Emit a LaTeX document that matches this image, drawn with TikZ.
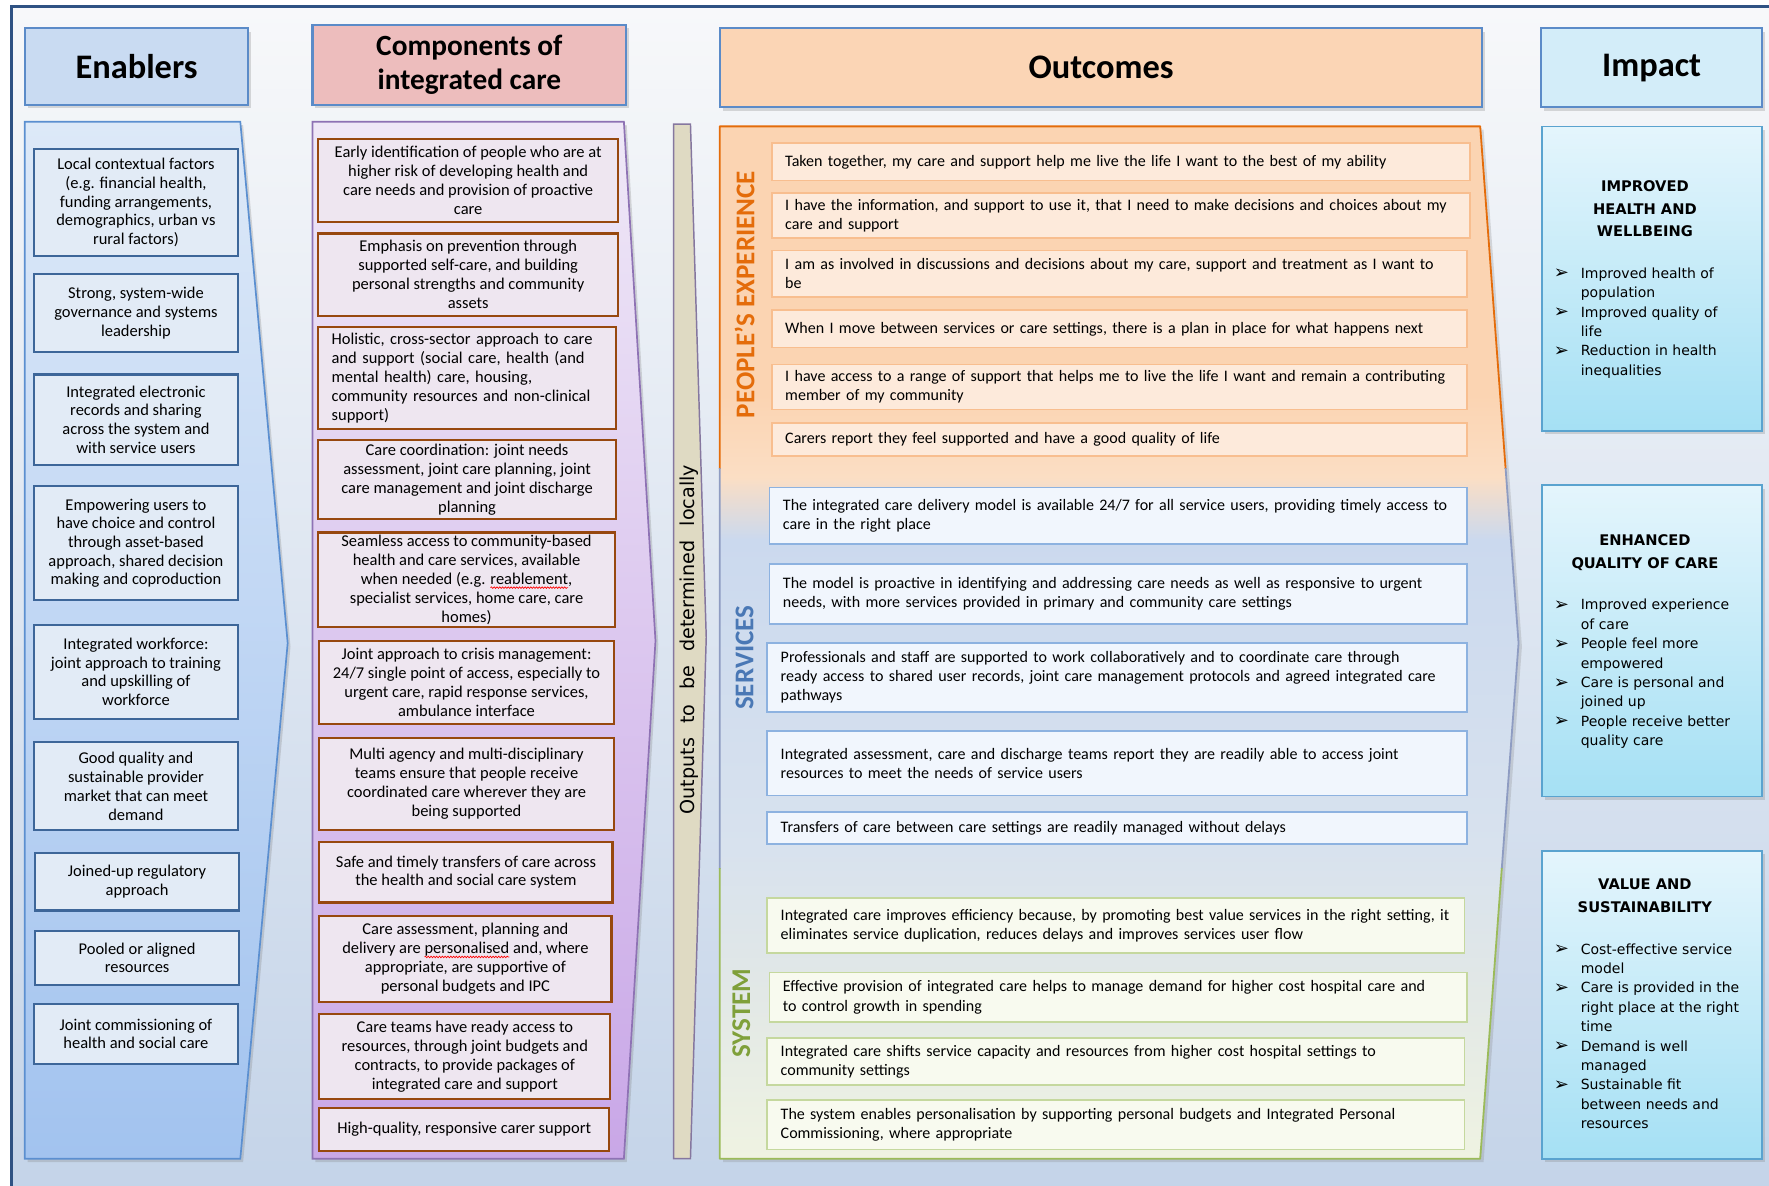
\documentclass[tikz,border=0pt]{standalone}
\usepackage{fontspec}
\setmainfont{Carlito}
\newfontfamily\verd{DejaVu Sans}
\usetikzlibrary{shadows,calc,decorations.pathmorphing}

\definecolor{framec}{HTML}{2F5283}
\definecolor{bgtop}{HTML}{F7F8FA}
\definecolor{bgmid}{HTML}{E9EDF2}
\definecolor{bgbot}{HTML}{C3D3E8}
\definecolor{hdrb}{HTML}{5B8BC8}
\definecolor{enhf}{HTML}{C9DBF2}
\definecolor{cohf}{HTML}{EDBDBD}
\definecolor{ouhf}{HTML}{FBD5B5}
\definecolor{imhf}{HTML}{D3EDF9}
\definecolor{enct}{HTML}{DDE9F8}
\definecolor{encb}{HTML}{A2C3EF}
\definecolor{encd}{HTML}{5B8FD0}
\definecolor{ebf}{HTML}{E2EBF6}
\definecolor{ebd}{HTML}{3D6699}
\definecolor{coct}{HTML}{EFE8F7}
\definecolor{cocb}{HTML}{C9A7E7}
\definecolor{cocd}{HTML}{8E72B4}
\definecolor{cbf}{HTML}{EEE6F0}
\definecolor{cbd}{HTML}{97480F}
\definecolor{opf}{HTML}{DFDAC3}
\definecolor{opd}{HTML}{85779F}
\definecolor{peo}{HTML}{E46C0A}
\definecolor{srv}{HTML}{4A78B5}
\definecolor{sysg}{HTML}{7FA03A}
\definecolor{srvline}{HTML}{8E9CC2}
\definecolor{sysline}{HTML}{9BBB59}
\definecolor{pbf}{HTML}{FDEADB}
\definecolor{pbd}{HTML}{F8BE8F}
\definecolor{sbf}{HTML}{F1F6FD}
\definecolor{sbd}{HTML}{8DB2E0}
\definecolor{ybf}{HTML}{F8FAEF}
\definecolor{ybd}{HTML}{C5D89E}
\definecolor{imt}{HTML}{E4F5FC}
\definecolor{imb}{HTML}{A5E0F4}
\definecolor{imd}{HTML}{5AA3CF}
\definecolor{osA}{HTML}{EFF3E2}
\definecolor{osB}{HTML}{E2E8E6}
\definecolor{osC}{HTML}{D8E2EE}
\definecolor{osD}{HTML}{CBD9EE}
\definecolor{osE}{HTML}{FBDEC4}
\definecolor{osF}{HTML}{FBD4B2}

\pgfdeclareverticalshading{outsh}{100bp}{color(0bp)=(osA); color(25bp)=(osA); color(33bp)=(osB); color(40bp)=(osC); color(55bp)=(osD); color(58bp)=(osE); color(62bp)=(osF); color(100bp)=(osF)}

\newsavebox\wbox
\newcommand\redwave[1]{\sbox\wbox{#1}\usebox\wbox\makebox[0pt][r]{\tikz[baseline=0pt]{\useasboundingbox (0pt,0pt) rectangle (\wd\wbox,0pt);\draw[red, line width=0.6pt, decorate, decoration={snake, amplitude=0.7pt, segment length=2.5pt}] (0pt,-2.8pt) -- (\wd\wbox,-2.8pt);}}}

\newcommand\bx[7]{%
 \pgfmathsetmacro\bxcx{(#3+#5)/2}%
 \pgfmathsetmacro\bxcy{(#4+#6)/2}%
 \pgfmathsetmacro\bxw{#5-#3}%
 \pgfmathsetmacro\bxh{#6-#4}%
 \node[#2, minimum width=\bxw pt, minimum height=\bxh pt] (#1) at (\bxcx,\bxcy) {#7};}
\newcommand\lbx[7]{%
 \pgfmathsetmacro\bxcx{(#3+#5)/2}%
 \pgfmathsetmacro\bxcy{(#4+#6)/2}%
 \pgfmathsetmacro\bxw{#5-#3}%
 \pgfmathsetmacro\bxh{#6-#4}%
 \pgfmathsetmacro\bxtw{#5-#3-24}%
 \node[#2, minimum width=\bxw pt, minimum height=\bxh pt, text width=\bxtw pt, align=left, inner xsep=12pt] (#1) at (\bxcx,\bxcy) {#7};}
\newcommand\bul{\makebox[24pt][l]{\raisebox{-0.5pt}{\fontsize{16}{12}\selectfont ➢}}}
\newcommand\ind{\hspace*{24pt}}

\tikzset{
 shd/.style={drop shadow={shadow xshift=2.5pt, shadow yshift=-3pt, opacity=0.28}},
 hdr/.style={draw=hdrb, line width=1.8pt, align=center, inner sep=2pt, shd},
 ebox/.style={draw=ebd, fill=ebf, line width=2pt, align=center, inner sep=2pt, font=\fontsize{14.6}{16.6}\selectfont},
 cbox/.style={draw=cbd, fill=cbf, line width=2pt, align=center, inner sep=2pt, font=\fontsize{14.6}{16.8}\selectfont},
 obox/.style={line width=1.5pt, inner ysep=2pt, font=\fontsize{14.2}{17}\selectfont},
 pbox/.style={obox, draw=pbd, fill=pbf},
 sbox/.style={obox, draw=sbd, fill=sbf},
 ybox/.style={obox, draw=ybd, fill=ybf},
 ibox/.style={draw=imd, line width=1.5pt, top color=imt, bottom color=imb, shd},
 ihead/.style={font=\verd\bfseries\fontsize{13}{20}\selectfont, align=center, inner sep=0pt, anchor=north},
 ilist/.style={font=\verd\fontsize{12.4}{17.2}\selectfont, align=left, inner sep=0pt, anchor=north west},
 seclab/.style={rotate=90, font=\bfseries\fontsize{24}{28}\selectfont, inner sep=0pt}
}

\begin{document}
\begin{tikzpicture}[x=1pt, y=-1pt]
\useasboundingbox (0,0) rectangle (1568,1051);
\clip (0,0) rectangle (1568,1051);
\fill[white] (0,0) rectangle (1568,1051);
% background and frame
\shade[top color=bgtop, middle color=bgmid, bottom color=bgbot] (10,6) rectangle (1600,1080);
\draw[framec, line width=3pt] (10,1080) -- (10,6) -- (1600,6);

% headers
\bx{hEn}{hdr, fill=enhf, font=\bfseries\fontsize{30.5}{34}\selectfont}{22}{25}{220}{93}{Enablers}
\bx{hCo}{hdr, fill=cohf, font=\bfseries\fontsize{26}{30}\selectfont}{277}{22}{555}{93}{Components of\\integrated care}
\bx{hOu}{hdr, fill=ouhf, font=\bfseries\fontsize{30.5}{34}\selectfont}{638}{25}{1314}{95}{Outcomes}
\bx{hIm}{hdr, fill=imhf, font=\bfseries\fontsize{30.5}{34}\selectfont}{1366}{25}{1562}{95}{Impact}

% enablers chevron
\path[draw=encd, line width=1.5pt, top color=enct, bottom color=encb, shd]
  (22,108) coordinate (etl) -- (213,108) coordinate (etr) -- (255,570) coordinate (etip)
  -- (213,1027) coordinate (ebr) -- (22,1027) coordinate (ebl) -- cycle;
% components chevron
\path[draw=cocd, line width=1.5pt, top color=coct, bottom color=cocb, shd]
  (277,108) coordinate (ctl) -- (553,108) coordinate (ctr) -- (581,568) coordinate (ctip)
  -- (553,1027) coordinate (cbr) -- (277,1027) coordinate (cbl) -- cycle;
% outputs bar
\path[draw=opd, line width=1.3pt, fill=opf]
  (597,110) coordinate (ptl) -- (612,110) coordinate (ptr) -- (626,565) coordinate (ptip)
  -- (612,1027) coordinate (pbr) -- (597,1027) coordinate (pbl) -- cycle;
\node[rotate=90, font=\verd\fontsize{17}{20}\selectfont, inner sep=0pt] (outtxt) at (611,567)
  {\makebox[310pt][s]{Outputs to be determined locally}};

% outcomes chevron
\coordinate (otl) at (638,112);
\coordinate (otr) at (1312,112);
\coordinate (otip) at (1346,570);
\coordinate (obr) at (1312,1027);
\coordinate (obl) at (638,1027);
\shade[shading=outsh, drop shadow={shadow xshift=3pt, shadow yshift=-3pt, opacity=0.25}] (otl) -- (otr) -- (otip) -- (obr) -- (obl) -- cycle;
\begin{scope}
\clip (600,0) rectangle (1400,415);
\draw[peo, line width=1.6pt, line join=round] (obl) -- (otl) -- (otr) -- (otip) -- (obr);
\end{scope}
\begin{scope}
\clip (600,415) rectangle (1400,770);
\draw[srvline, line width=1.6pt, line join=round] (obl) -- (otl) -- (otr) -- (otip) -- (obr);
\end{scope}
\begin{scope}
\clip (600,770) rectangle (1400,1051);
\draw[sysline, line width=1.6pt, line join=round] (otl) -- (otr) -- (otip) -- (obr) -- (obl) -- cycle;
\end{scope}

% section labels
\node[seclab, text=peo] (lPE) at (660,261) {PEOPLE’S EXPERIENCE};
\node[seclab, text=srv] (lSE) at (660,583) {SERVICES};
\node[seclab, text=sysg] (lSY) at (657,898) {SYSTEM};

% enabler boxes
\bx{e1}{ebox}{30}{132}{211}{227}{Local contextual factors\\(e.g. financial health,\\funding arrangements,\\demographics, urban vs\\rural factors)}
\bx{e2}{ebox}{30}{243}{211}{312}{Strong, system-wide\\governance and systems\\leadership}
\bx{e3}{ebox}{30}{332}{211}{412}{Integrated electronic\\records and sharing\\across the system and\\with service users}
\bx{e4}{ebox}{30}{431}{211}{532}{Empowering users to\\have choice and control\\through asset-based\\approach, shared decision\\making and coproduction}
\bx{e5}{ebox}{30}{554}{211}{637}{Integrated workforce:\\joint approach to training\\and upskilling of\\workforce}
\bx{e6}{ebox}{30}{658}{211}{736}{Good quality and\\sustainable provider\\market that can meet\\demand}
\bx{e7}{ebox}{31}{756}{212}{807}{Joined-up regulatory\\approach}
\bx{e8}{ebox}{31}{825}{212}{873}{Pooled or aligned\\resources}
\bx{e9}{ebox}{30}{890}{211}{943}{Joint commissioning of\\health and social care}

% component boxes
\bx{c1}{cbox}{282}{123}{548}{197}{Early identification of people who are at\\higher risk of developing health and\\care needs and provision of proactive\\care}
\bx{c2}{cbox}{282}{207}{548}{280}{Emphasis on prevention through\\supported self-care, and building\\personal strengths and community\\assets}
\lbx{c3}{cbox}{282}{290}{546}{380}{Holistic, cross-sector approach to care\\and support (social care, health (and\\mental health) care, housing,\\community resources and non-clinical\\support)}
\bx{c4}{cbox}{282}{390}{546}{460}{Care coordination: joint needs\\assessment, joint care planning, joint\\care management and joint discharge\\planning}
\bx{c5}{cbox}{282}{472}{545}{556}{Seamless access to community-based\\health and care services, available\\when needed (e.g. \redwave{reablement},\\specialist services, home care, care\\homes)}
\bx{c6}{cbox}{283}{568}{544}{642}{Joint approach to crisis management:\\24/7 single point of access, especially to\\urgent care, rapid response services,\\ambulance interface}
\bx{c7}{cbox}{283}{654}{544}{736}{Multi agency and multi-disciplinary\\teams ensure that people receive\\coordinated care wherever they are\\being supported}
\bx{c8}{cbox}{283}{746}{543}{800}{Safe and timely transfers of care across\\the health and social care system}
\bx{c9}{cbox}{283}{812}{542}{888}{Care assessment, planning and\\delivery are \redwave{personalised} and, where\\appropriate, are supportive of\\personal budgets and IPC}
\bx{c10}{cbox}{283}{899}{541}{974}{Care teams have ready access to\\resources, through joint budgets and\\contracts, to provide packages of\\integrated care and support}
\bx{c11}{cbox}{283}{982}{540}{1020}{High-quality, responsive carer support}

% people's experience
\lbx{p1}{pbox}{684}{127}{1303}{160}{Taken together, my care and support help me live the life I want to the best of my ability}
\lbx{p2}{pbox}{684}{171}{1303}{211}{I have the information, and support to use it, that I need to make decisions and choices about my\\care and support}
\lbx{p3}{pbox}{684}{222}{1300}{263}{I am as involved in discussions and decisions about my care, support and treatment as I want to\\be}
\lbx{p4}{pbox}{684}{275}{1300}{308}{When I move between services or care settings, there is a plan in place for what happens next}
\lbx{p5}{pbox}{684}{323}{1300}{363}{I have access to a range of support that helps me to live the life I want and remain a contributing\\member of my community}
\lbx{p6}{pbox}{684}{375}{1300}{404}{Carers report they feel supported and have a good quality of life}

% services
\lbx{s1}{sbox}{682}{432}{1300}{482}{The integrated care delivery model is available 24/7 for all service users, providing timely access to\\care in the right place}
\lbx{s2}{sbox}{682}{500}{1300}{553}{The model is proactive in identifying and addressing care needs as well as responsive to urgent\\needs, with more services provided in primary and community care settings}
\lbx{s3}{sbox}{680}{570}{1300}{631}{Professionals and staff are supported to work collaboratively and to coordinate care through\\ready access to shared user records, joint care management protocols and agreed integrated care\\pathways}
\lbx{s4}{sbox}{680}{648}{1300}{705}{Integrated assessment, care and discharge teams report they are readily able to access joint\\resources to meet the needs of service users}
\lbx{s5}{sbox}{680}{720}{1300}{748}{Transfers of care between care settings are readily managed without delays}

% system
\lbx{y1}{ybox}{680}{796}{1298}{845}{Integrated care improves efficiency because, by promoting best value services in the right setting, it\\eliminates service duplication, reduces delays and improves services user flow}
\lbx{y2}{ybox}{682}{862}{1300}{906}{Effective provision of integrated care helps to manage demand for higher cost hospital care and\\to control growth in spending}
\lbx{y3}{ybox}{680}{920}{1298}{962}{Integrated care shifts service capacity and resources from higher cost hospital settings to\\community settings}
\lbx{y4}{ybox}{680}{975}{1298}{1019}{The system enables personalisation by supporting personal budgets and Integrated Personal\\Commissioning, where appropriate}

% impact boxes
\bx{i1}{ibox}{1367}{112}{1562}{382}{}
\bx{i2}{ibox}{1367}{430}{1562}{706}{}
\bx{i3}{ibox}{1367}{754}{1562}{1027}{}
\node[ihead] (i1h) at (1458,160) {IMPROVED\\HEALTH AND\\WELLBEING};
\node[ilist] (i1l) at (1377,237) {\bul Improved health of\\\ind population\\\bul Improved quality of\\\ind life\\\bul Reduction in health\\\ind inequalities};
\node[ihead] (i2h) at (1458,474) {ENHANCED\\QUALITY OF CARE};
\node[ilist] (i2l) at (1377,531) {\bul Improved experience\\\ind of care\\\bul People feel more\\\ind empowered\\\bul Care is personal and\\\ind joined up\\\bul People receive better\\\ind quality care};
\node[ihead] (i3h) at (1458,779) {VALUE AND\\SUSTAINABILITY};
\node[ilist] (i3l) at (1377,836) {\bul Cost-effective service\\\ind model\\\bul Care is provided in the\\\ind right place at the right\\\ind time\\\bul Demand is well\\\ind managed\\\bul Sustainable fit\\\ind between needs and\\\ind resources};
\end{tikzpicture}
\end{document}
